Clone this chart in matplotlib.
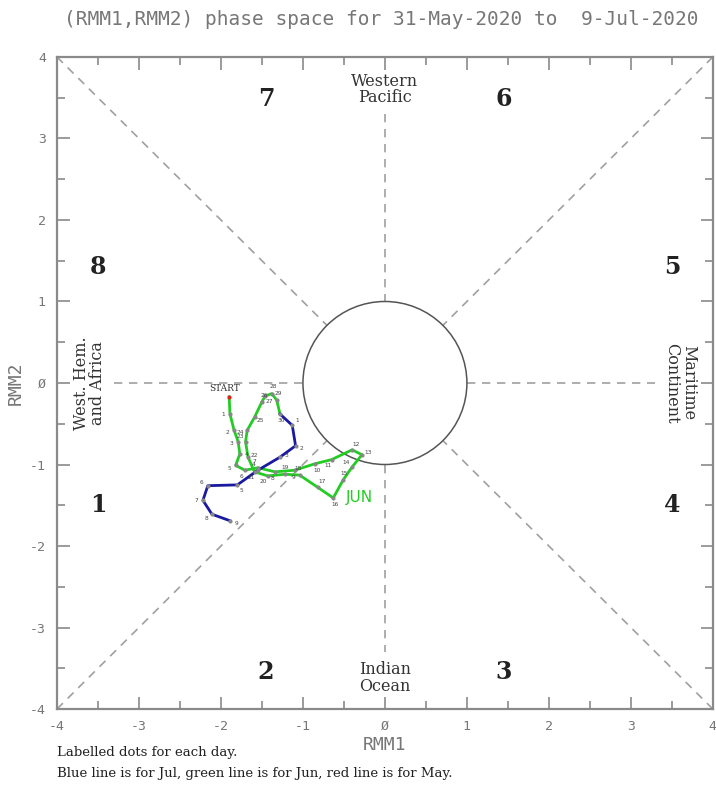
import numpy as np
import matplotlib
matplotlib.use("Agg")
import matplotlib.pyplot as plt
from matplotlib.patches import Circle
from matplotlib.ticker import MultipleLocator

# colours
frame_gray = "#8a8a8a"
dash_gray = "#a0a0a0"
text_gray = "#777777"
jun_green = "#22cc22"
jul_blue = "#1a1aa0"
may_red = "#dd2222"

# daily RMM values
may_rmm1 = [-1.90]
may_rmm2 = [-0.17]

jun_rmm1 = [-1.90, -1.89, -1.84, -1.79, -1.77, -1.82, -1.71, -1.55, -1.34, -1.10,
            -0.85, -0.65, -0.40, -0.28, -0.40, -0.51, -0.63, -0.82, -1.04, -1.22,
            -1.43, -1.59, -1.67, -1.70, -1.68, -1.59, -1.50, -1.46, -1.38, -1.32,
            -1.28]
jun_rmm2 = [-0.17, -0.38, -0.58, -0.72, -0.87, -1.01, -1.07, -1.04, -1.09, -1.07,
            -0.99, -0.94, -0.82, -0.88, -1.03, -1.19, -1.41, -1.28, -1.13, -1.12,
            -1.14, -1.09, -0.91, -0.72, -0.58, -0.42, -0.23, -0.16, -0.13, -0.21,
            -0.38]
jun_days = list(range(1, 31))

jul_rmm1 = [-1.28, -1.13, -1.09, -1.28, -1.55, -1.80, -2.16, -2.22, -2.11, -1.89]
jul_rmm2 = [-0.38, -0.52, -0.77, -0.91, -1.07, -1.25, -1.26, -1.44, -1.61, -1.69]
jul_days = list(range(1, 10))

phase_labels = ["1", "2", "3", "4", "5", "6", "7", "8"]
phase_x = [-3.5, -1.45, 1.45, 3.5, 3.5, 1.45, -1.45, -3.5]
phase_y = [-1.5, -3.55, -3.55, -1.5, 1.42, 3.48, 3.48, 1.42]

ticks = [-4, -3, -2, -1, 0, 1, 2, 3, 4]
tick_labels = ["-4", "-3", "-2", "-1", "\u00d8", "1", "2", "3", "4"]

fig = plt.figure(figsize=(7.16, 7.85), dpi=100)
ax = fig.add_axes([0.0796, 0.0968, 0.916, 0.8306])
ax.set_xlim(-4, 4)
ax.set_ylim(-4, 4)

for side in ax.spines.values():
    side.set_color(frame_gray)
    side.set_linewidth(1.6)

ax.xaxis.set_major_locator(MultipleLocator(1))
ax.yaxis.set_major_locator(MultipleLocator(1))
ax.xaxis.set_minor_locator(MultipleLocator(0.5))
ax.yaxis.set_minor_locator(MultipleLocator(0.5))
ax.tick_params(which="both", direction="in", top=True, right=True,
               color=frame_gray, width=1.2, labelcolor=text_gray, labelsize=9.5)
ax.tick_params(which="major", length=9)
ax.tick_params(which="minor", length=6)
ax.set_xticks(ticks)
ax.set_xticklabels(tick_labels, family="DejaVu Sans Mono")
ax.set_yticks(ticks)
ax.set_yticklabels(tick_labels, family="DejaVu Sans Mono")
ax.tick_params(axis="x", pad=8)
ax.tick_params(axis="y", pad=8)

ax.set_xlabel("RMM1", color=text_gray, fontsize=13, family="DejaVu Sans Mono",
              labelpad=2)
ax.set_ylabel("RMM2", color=text_gray, fontsize=13, family="DejaVu Sans Mono",
              labelpad=4)

# phase diagram guides
r = np.sqrt(0.5)
dash = dict(color=dash_gray, linestyle=(0, (5, 4)), linewidth=1.2, zorder=1)
ax.plot([-4, -r], [4, r], **dash)
ax.plot([4, r], [4, r], **dash)
ax.plot([-4, -r], [-4, -r], **dash)
ax.plot([4, r], [-4, -r], **dash)
ax.plot([0, 0], [3.3, 1], **dash)
ax.plot([0, 0], [-1, -3.3], **dash)
ax.plot([-3.3, -1], [0, 0], **dash)
ax.plot([1, 3.3], [0, 0], **dash)
ax.add_patch(Circle((0, 0), 1, fill=False, edgecolor="#555555", linewidth=1.1,
                    zorder=2))

for lab, px, py in zip(phase_labels, phase_x, phase_y):
    ax.text(px, py, lab, ha="center", va="center", fontsize=17,
            fontweight="bold", family="DejaVu Serif", color="#222222")

region_font = dict(family="DejaVu Serif", fontsize=11.5, color="#333333",
                   ha="center", va="center", linespacing=0.95)
ax.text(0, 3.6, "Western\nPacific", **region_font)
ax.text(0, -3.62, "Indian\nOcean", **region_font)
ax.text(-3.6, 0, "West. Hem.\nand Africa", rotation=90, **region_font)
ax.text(3.6, 0, "Maritime\nContinent", rotation=-90, **region_font)

# trajectories
ax.plot(jun_rmm1, jun_rmm2, color=jun_green, linewidth=2.0, zorder=3)
ax.plot(jul_rmm1, jul_rmm2, color=jul_blue, linewidth=2.0, zorder=3)
ax.plot(may_rmm1, may_rmm2, "o", color=may_red, markersize=2, zorder=4)
ax.plot(jun_rmm1[1:], jun_rmm2[1:], "o", color="#888888", markersize=2, zorder=4)
ax.plot(jul_rmm1[1:], jul_rmm2[1:], "o", color="#888888", markersize=2, zorder=4)


def day_labels(days, xs, ys):
    # push each label away from the track: outward at bends, sideways on straights
    xs = np.asarray(xs)
    ys = np.asarray(ys)
    for i, d in enumerate(days, start=1):
        lo = max(i - 1, 0)
        hi = min(i + 1, len(xs) - 1)
        vx = xs[i] - (xs[lo] + xs[hi]) / 2
        vy = ys[i] - (ys[lo] + ys[hi]) / 2
        n = np.hypot(vx, vy)
        if n < 0.03:
            tx, ty = xs[hi] - xs[lo], ys[hi] - ys[lo]
            vx, vy = ty, -tx
            n = np.hypot(vx, vy) or 1.0
        ax.text(xs[i] + 0.085 * vx / n, ys[i] + 0.085 * vy / n, str(d),
                fontsize=4.2, color="#444444", ha="center", va="center",
                zorder=5)


day_labels(jun_days, jun_rmm1, jun_rmm2)
day_labels(jul_days, jul_rmm1, jul_rmm2)

ax.text(may_rmm1[0] - 0.05, may_rmm2[0] + 0.1, "START", fontsize=6.5,
        family="DejaVu Serif", color="#333333", ha="center", va="center",
        zorder=5)
ax.text(jun_rmm1[16] + 0.32, jun_rmm2[16] + 0.01, "JUN", fontsize=11,
        color=jun_green, ha="center", va="center", zorder=5)

fig.text(0.533, 0.975, "(RMM1,RMM2) phase space for 31-May-2020 to  9-Jul-2020",
         ha="center", va="center", fontsize=14, color=text_gray,
         family="DejaVu Sans Mono")
fig.text(0.08, 0.042, "Labelled dots for each day.", fontsize=9.5,
         family="DejaVu Serif", color="#222222", va="center")
fig.text(0.08, 0.015,
         "Blue line is for Jul, green line is for Jun, red line is for May.",
         fontsize=9.5, family="DejaVu Serif", color="#222222", va="center")

fig.savefig("out.png", dpi=100)
